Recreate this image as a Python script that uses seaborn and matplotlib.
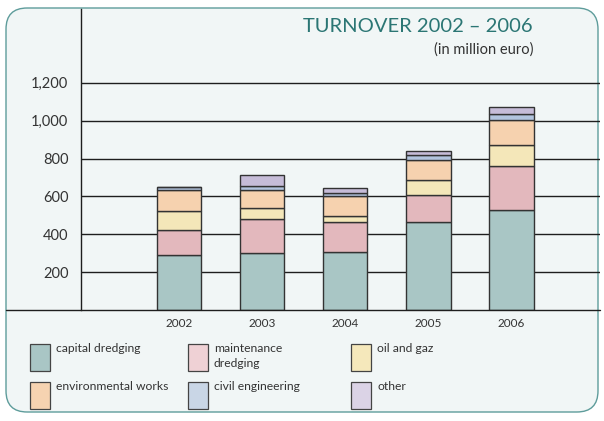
import numpy as np
import pandas as pd
import matplotlib
matplotlib.use("Agg")
import matplotlib.pyplot as plt
from matplotlib.patches import FancyBboxPatch, Rectangle
from matplotlib.ticker import FuncFormatter
import seaborn as sns

# -------------------- Data (million euro) -------------------- #
years = ["2002", "2003", "2004", "2005", "2006"]
capital_dredging = [288, 302, 309, 465, 530]
maintenance_dredging = [134, 178, 157, 140, 231]
oil_and_gaz = [102, 60, 32, 82, 110]
environmental_works = [109, 95, 105, 106, 132]
civil_engineering = [19, 22, 17, 26, 31]
other = [0, 58, 27, 21, 37]

series_names = ["capital dredging", "maintenance\ndredging", "oil and gaz",
                "environmental works", "civil engineering", "other"]
series_values = [capital_dredging, maintenance_dredging, oil_and_gaz,
                 environmental_works, civil_engineering, other]
bar_colors = ["#a9c6c5", "#e3b8bd", "#f4e7b9", "#f6d2af", "#b2c4de", "#c6bcd8"]
legend_colors = ["#a9c6c5", "#efd1d5", "#f5e8bb", "#f6d3b1", "#c9d6e6", "#dbd3e6"]

# -------------------- Style -------------------- #
sns.set_theme(style="white")
plt.rcParams['font.family'] = ['Lato', 'DejaVu Sans']

W, H = 604, 421
fig = plt.figure(figsize=(W / 100, H / 100), dpi=100)
fig.patch.set_facecolor("white")

# rounded background panel
panel = FancyBboxPatch((6 / W, 9 / H), 592 / W, 404 / H,
                       boxstyle="round,pad=0,rounding_size=0.035",
                       transform=fig.transFigure, facecolor="#f1f6f6",
                       edgecolor="#5e9c9b", linewidth=1.0, zorder=-5,
                       mutation_aspect=W / H)
fig.patches.append(panel)

ax = fig.add_axes([81 / W, (H - 310) / H, (600 - 81) / W, (310 - 9) / H])
ax.set_facecolor("none")
ax.set_zorder(2)

# -------------------- Stacked bars -------------------- #
df = pd.DataFrame({"year": years})
bottom = np.zeros(len(years))
for name, vals, col in zip(series_names, series_values, bar_colors):
    df["value"] = vals
    sns.barplot(data=df, x="year", y="value", bottom=bottom, color=col,
                saturation=1, width=0.54, edgecolor="#333333", linewidth=1.0,
                errorbar=None, ax=ax, zorder=3)
    bottom = bottom + np.array(vals)

ax.set_xlim(-1.18, 5.07)
ax.set_ylim(0, 1590)
ax.set_yticks([200, 400, 600, 800, 1000, 1200])
ax.yaxis.set_major_formatter(FuncFormatter(lambda v, p: f"{int(v):,}"))
for v in [200, 400, 600, 800, 1000, 1200]:
    ax.axhline(v, color="#1e1e1e", linewidth=1.0, zorder=1)
ax.axhline(0, xmin=(6 - 81) / 519, xmax=1.0, color="#1e1e1e",
           linewidth=1.0, zorder=4, clip_on=False)

for s in ["top", "right", "bottom"]:
    ax.spines[s].set_visible(False)
ax.spines["left"].set_color("#1e1e1e")
ax.spines["left"].set_linewidth(1.0)

ax.tick_params(axis="y", length=0, pad=9, labelsize=10.5, labelcolor="#333333")
ax.tick_params(axis="x", length=0, pad=6, labelsize=8.5, labelcolor="#333333")
ax.set_xlabel("")
ax.set_ylabel("")

# -------------------- Titles -------------------- #
fig.text(533 / W, 1 - 27 / H, "TURNOVER 2002 \u2013 2006", ha="right", va="center",
         fontsize=14.5, color="#2b7674")
fig.text(533 / W, 1 - 50 / H, "(in million euro)", ha="right", va="center",
         fontsize=10.5, color="#333333")

# -------------------- Legend -------------------- #
col_x = [30, 188, 351]
row_y = [344, 382]
for i, (name, col) in enumerate(zip(series_names, legend_colors)):
    x0 = col_x[i % 3]
    y0 = row_y[i // 3]
    fig.patches.append(Rectangle((x0 / W, 1 - (y0 + 27) / H), 20 / W, 27 / H,
                                 transform=fig.transFigure, facecolor=col,
                                 edgecolor="#444444", linewidth=0.9))
    fig.text((x0 + 26) / W, 1 - (y0 - 1) / H, name, ha="left", va="top",
             fontsize=8.7, color="#333333", linespacing=1.45)

fig.savefig("out.png", dpi=100, facecolor="white")
